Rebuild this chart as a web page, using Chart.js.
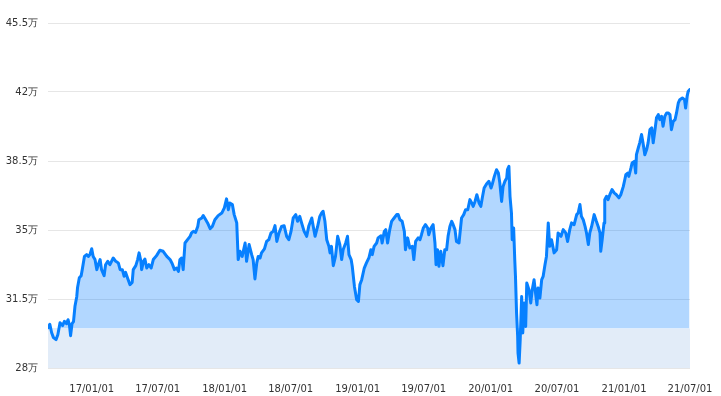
<!DOCTYPE html>
<html>
<head>
<meta charset="utf-8">
<script src="https://cdn.jsdelivr.net/npm/chart.js@4/dist/chart.umd.min.js"></script>
<style>
  html, body { margin: 0; padding: 0; background: #fff; }
  #wrap { width: 721px; height: 396px; }
</style>
</head>
<body>
<div id="wrap"><canvas id="graphValue"></canvas></div>
<script>
// Basis data (days counted from startDate, values in 万)
var startDate = '2016-09-03';
var endDate = '2021-07-01';
var baseLevel = 30;

var days = [
    0, 5, 10, 15, 22, 27, 33, 40, 45, 51, 55, 59, 62, 66, 70, 74, 79, 81, 86, 91,
    94, 100, 106, 111, 115, 120, 124, 129, 134, 138, 143, 147, 154, 158, 164, 170, 179, 186, 193, 198,
    204, 209, 213, 220, 225, 231, 234, 241, 246, 250, 255, 257, 262, 266, 271, 277, 283, 289, 298, 307,
    316, 326, 335, 341, 347, 353, 358, 362, 367, 371, 376, 383, 390, 394, 399, 405, 411, 414, 422, 426,
    431, 438, 445, 451, 458, 467, 477, 484, 490, 495, 499, 506, 511, 518, 522, 527, 533, 541, 545, 552,
    559, 563, 568, 573, 577, 582, 586, 594, 600, 606, 612, 618, 623, 628, 634, 641, 648, 655, 661, 667,
    673, 680, 685, 691, 696, 703, 710, 716, 724, 728, 733, 740, 746, 751, 755, 760, 765, 771, 774, 778,
    783, 789, 795, 801, 806, 810, 817, 822, 826, 832, 835, 841, 847, 852, 856, 861, 868, 874, 881, 886,
    890, 895, 902, 906, 914, 917, 923, 927, 932, 938, 943, 950, 957, 961, 966, 972, 978, 981, 987, 993,
    1000, 1004, 1009, 1016, 1021, 1025, 1030, 1036, 1042, 1045, 1051, 1057, 1062, 1065, 1069, 1073, 1078, 1084, 1089, 1094,
    1098, 1103, 1108, 1112, 1117, 1121, 1128, 1135, 1141, 1146, 1152, 1158, 1163, 1167, 1172, 1177, 1183, 1188, 1192, 1197,
    1204, 1210, 1216, 1219, 1225, 1231, 1236, 1240, 1245, 1249, 1254, 1259, 1261, 1265, 1268, 1272, 1274, 1278, 1281, 1283,
    1286, 1289, 1290, 1293, 1296, 1300, 1303, 1307, 1311, 1314, 1320, 1325, 1329, 1334, 1338, 1342, 1345, 1350, 1355, 1359,
    1364, 1368, 1373, 1377, 1382, 1389, 1396, 1400, 1408, 1414, 1421, 1426, 1432, 1437, 1444, 1451, 1455, 1460, 1464, 1469,
    1474, 1478, 1483, 1487, 1492, 1499, 1505, 1510, 1515, 1517, 1521, 1526, 1528, 1533, 1537, 1542, 1548, 1554, 1560, 1567,
    1572, 1579, 1583, 1586, 1591, 1594, 1600, 1603, 1609, 1613, 1615, 1620, 1624, 1629, 1633, 1638, 1643, 1647, 1652, 1657,
    1661, 1666, 1670, 1675, 1679, 1684, 1688, 1693, 1698, 1702, 1707, 1711, 1716, 1721, 1725, 1730, 1734, 1741, 1747, 1750,
    1754, 1757, 1761
];

var values = [
    30.04, 30.22, 29.79, 29.54, 29.44, 29.69, 30.30, 30.15, 30.37, 30.25, 30.45, 30.15, 29.64, 30.25, 30.35, 31.13, 31.63, 32.07, 32.58, 32.68,
    32.99, 33.66, 33.75, 33.66, 33.75, 34.05, 33.66, 33.50, 32.99, 33.24, 33.50, 32.99, 32.68, 33.24, 33.41, 33.24, 33.58, 33.41, 33.33, 32.99,
    32.99, 32.65, 32.85, 32.48, 32.23, 32.34, 32.99, 33.19, 33.50, 33.84, 33.41, 32.99, 33.41, 33.53, 33.07, 33.24, 33.07, 33.50, 33.70, 33.97,
    33.92, 33.66, 33.50, 33.29, 32.99, 33.07, 32.90, 33.50, 33.58, 32.99, 34.34, 34.51, 34.68, 34.85, 34.93, 34.88, 35.18, 35.52, 35.61, 35.73,
    35.58, 35.36, 35.07, 35.18, 35.52, 35.73, 35.86, 36.12, 36.58, 36.03, 36.37, 36.29, 35.78, 35.36, 33.50, 33.92, 33.66, 34.34, 33.41, 34.26,
    33.75, 33.50, 32.52, 33.33, 33.66, 33.58, 33.84, 34.04, 34.42, 34.51, 34.85, 34.93, 35.22, 34.42, 34.85, 35.18, 35.22, 34.68, 34.51, 34.93,
    35.61, 35.78, 35.44, 35.69, 35.36, 34.93, 34.68, 35.22, 35.61, 35.18, 34.68, 35.18, 35.69, 35.86, 35.95, 35.44, 34.51, 34.17, 33.84, 34.17,
    33.19, 33.66, 34.68, 34.26, 33.50, 34.00, 34.34, 34.68, 33.75, 33.50, 33.16, 32.14, 31.47, 31.38, 32.23, 32.48, 33.07, 33.33, 33.60, 34.00,
    33.75, 34.17, 34.34, 34.60, 34.71, 34.34, 34.93, 35.02, 34.34, 35.02, 35.44, 35.61, 35.78, 35.78, 35.52, 35.44, 34.93, 34.00, 34.60, 34.09,
    34.17, 33.50, 34.42, 34.60, 34.51, 34.76, 35.10, 35.27, 35.10, 34.76, 35.10, 35.27, 34.34, 33.24, 34.00, 33.16, 33.92, 33.19, 34.00, 34.00,
    34.68, 35.18, 35.44, 35.27, 35.02, 34.42, 34.34, 35.61, 35.78, 36.03, 36.03, 36.54, 36.37, 36.20, 36.45, 36.79, 36.37, 36.20, 36.63, 37.13,
    37.35, 37.47, 37.13, 37.30, 37.72, 38.06, 37.89, 37.39, 36.45, 37.21, 37.47, 37.64, 38.06, 38.23, 36.71, 35.86, 34.51, 35.10, 33.50, 32.65,
    30.79, 29.60, 28.76, 28.25, 29.44, 31.63, 29.78, 31.30, 30.11, 32.31, 31.97, 31.30, 31.97, 32.48, 31.81, 31.21, 32.06, 31.55, 32.48, 32.65,
    33.24, 33.66, 35.36, 34.17, 34.51, 33.84, 34.00, 34.85, 34.68, 35.02, 34.85, 34.42, 35.02, 35.36, 35.27, 35.78, 35.86, 36.29, 35.69, 35.52,
    35.18, 34.85, 34.26, 34.85, 35.18, 35.78, 35.44, 35.18, 34.85, 33.92, 34.51, 35.36, 36.54, 36.71, 36.54, 36.79, 37.05, 36.88, 36.79, 36.63,
    36.79, 37.21, 37.55, 37.81, 37.89, 37.72, 38.15, 38.40, 38.48, 37.89, 38.82, 39.16, 39.42, 39.84, 39.42, 38.82, 39.08, 39.42, 40.09, 40.18,
    39.42, 40.09, 40.69, 40.85, 40.60, 40.77, 40.26, 40.77, 40.94, 40.94, 40.85, 40.09, 40.51, 40.60, 40.94, 41.45, 41.61, 41.70, 41.61, 41.19,
    41.78, 42.03, 42.12
];

var tickDates = ['2017-01-01', '2017-07-01', '2018-01-01', '2018-07-01', '2019-01-01',
                 '2019-07-01', '2020-01-01', '2020-07-01', '2021-01-01', '2021-07-01'];

var yMin = 28;
var yMax = 45.5;
var yStep = 3.5;

var lineColor = '#0780ff';
var areaColor = 'rgba(0, 122, 255, 0.3)';
var bandColor = 'rgba(30, 110, 200, 0.13)';

/**
 * Days between startDate and a date string
 */
function dayOffset(dateStr) {
    var p = dateStr.split('-');
    var s = startDate.split('-');
    return Math.round((Date.UTC(p[0], p[1] - 1, p[2]) - Date.UTC(s[0], s[1] - 1, s[2])) / 86400000);
}

var tickDays = tickDates.map(dayOffset);
var tickLabels = {};
tickDates.forEach(function(d, i) {
    tickLabels[tickDays[i]] = d.slice(2).replace(/-/g, '/');
});
var lastDay = dayOffset(endDate);

var points = days.map(function(d, i) { return {x: d, y: values[i]}; });

var ctx = document.getElementById('graphValue').getContext('2d');
var chart = new Chart(ctx, {
    type: 'line',
    data: {
        datasets: [{
            data: points,
            borderColor: lineColor,
            borderWidth: 3,
            borderJoinStyle: 'round',
            borderCapStyle: 'round',
            pointRadius: 0,
            tension: 0,
            order: 0,
            fill: {
                target: {value: baseLevel},
                above: areaColor,
                below: 'rgba(0, 0, 0, 0)'
            }
        }, {
            // light band under the base level
            data: [{x: 0, y: baseLevel}, {x: lastDay, y: baseLevel}],
            borderWidth: 0,
            pointRadius: 0,
            backgroundColor: bandColor,
            fill: 'start',
            order: 1
        }]
    },
    options: {
        responsive: true,
        maintainAspectRatio: false,
        animation: false,
        layout: {padding: {top: 23, right: 31, left: 0, bottom: 0}},
        plugins: {
            legend: {display: false},
            tooltip: {enabled: false}
        },
        scales: {
            x: {
                type: 'linear',
                min: 0,
                max: lastDay,
                grid: {display: false},
                border: {display: false},
                afterBuildTicks: function(scale) {
                    scale.ticks = tickDays.map(function(v) { return {value: v}; });
                },
                afterFit: function(scale) { scale.height = 28; },
                ticks: {
                    autoSkip: false,
                    maxRotation: 0,
                    padding: 7,
                    color: '#333',
                    font: {family: 'DejaVu Sans', size: 10},
                    callback: function(v) { return tickLabels[v]; }
                }
            },
            y: {
                min: yMin,
                max: yMax,
                grid: {color: '#e6e6e6', drawTicks: false},
                border: {display: false},
                afterFit: function(scale) { scale.width = 48; },
                ticks: {
                    stepSize: yStep,
                    padding: 10,
                    color: '#333',
                    font: {family: 'DejaVu Sans', size: 10},
                    callback: function(v) { return v + '万'; }
                }
            }
        }
    }
});
</script>
</body>
</html>
